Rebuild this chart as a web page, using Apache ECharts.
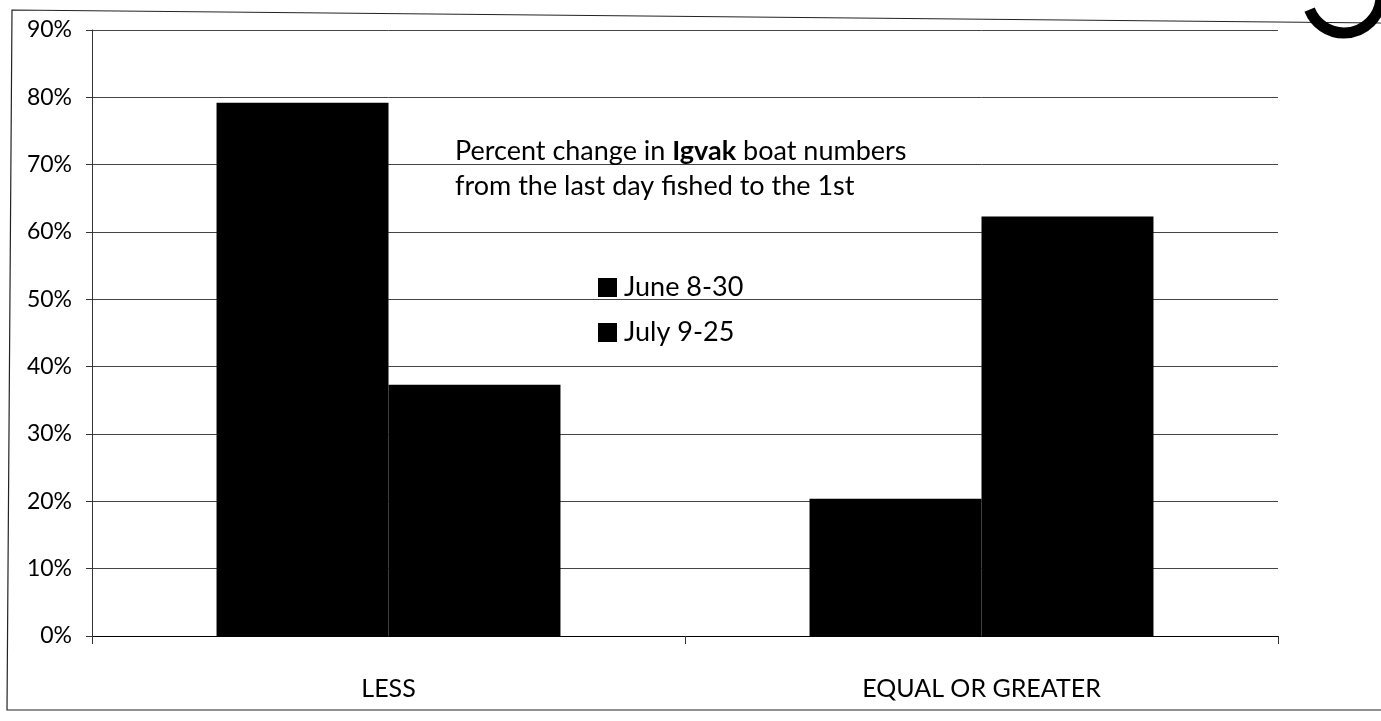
<!DOCTYPE html>
<html>
<head>
<meta charset="utf-8">
<script src="https://cdn.jsdelivr.net/npm/echarts@6/dist/echarts.min.js"></script>
<style>
html,body{margin:0;padding:0;background:#fff;}
#chart{width:1381px;height:721px;}
</style>
</head>
<body>
<div id="chart"></div>
<script>
// Data
const categories = ['LESS', 'EQUAL OR GREATER'];
const seriesNames = ['June 8-30', 'July 9-25'];
const june = [79.2, 20.4];
const july = [37.3, 62.3];
const yMin = 0, yMax = 90, yStep = 10;

const FONT = 'Lato, "Open Sans", sans-serif';
const chart = echarts.init(document.getElementById('chart'));
chart.setOption({
  backgroundColor: '#fff',
  animation: false,
  title: {
    left: 450, top: 129,
    text: '{a|Percent change in }{b|Igvak}{a| boat numbers}\n{a|from the last day fished to the 1st}',
    textStyle: {
      fontWeight: 'normal', fontSize: 27, fontFamily: FONT, color: '#000',
      rich: {
        a: {fontFamily: FONT, fontSize: 27, fontWeight: 'normal', color: '#000', lineHeight: 35},
        b: {fontFamily: FONT, fontSize: 27, fontWeight: 'bold', color: '#000', lineHeight: 35}
      }
    }
  },
  legend: {
    orient: 'vertical',
    left: 593, top: 267,
    itemWidth: 17, itemHeight: 17, itemGap: 14,
    icon: 'rect',
    textStyle: {fontFamily: FONT, fontSize: 27, color: '#000', lineHeight: 31, padding: [0, 0, 0, 3]},
    data: seriesNames
  },
  grid: {left: 92, right: 103, top: 30, bottom: 85},
  xAxis: {
    type: 'category',
    data: categories,
    axisLine: {lineStyle: {color: '#000', width: 1}},
    axisTick: {show: true, length: 8, lineStyle: {color: '#333'}},
    axisLabel: {fontFamily: FONT, fontSize: 25, color: '#000', margin: 40}
  },
  yAxis: {
    type: 'value',
    min: yMin, max: yMax, interval: yStep,
    axisLine: {show: true, lineStyle: {color: '#333', width: 1}},
    axisTick: {show: true, length: 6, lineStyle: {color: '#333'}},
    axisLabel: {fontFamily: FONT, fontSize: 23, color: '#000', margin: 20, formatter: '{value}%'},
    splitLine: {lineStyle: {color: '#444', width: 1}}
  },
  series: [
    {name: seriesNames[0], type: 'bar', data: june, barGap: '0%', barCategoryGap: '42%',
      itemStyle: {color: '#000', borderColor: '#000', borderWidth: 2}},
    {name: seriesNames[1], type: 'bar', data: july, barGap: '0%', barCategoryGap: '42%',
      itemStyle: {color: '#000', borderColor: '#000', borderWidth: 2}}
  ],
  graphic: [
    {type: 'polyline', silent: true, shape: {points: [[1381, 23], [12, 10], [7, 710], [1381, 710]]},
      style: {stroke: '#222', lineWidth: 1.2, fill: null}},
    {type: 'arc', silent: true, shape: {cx: 1344, cy: -4, r: 37, startAngle: 0.0 * Math.PI, endAngle: 0.88 * Math.PI},
      style: {stroke: '#000', lineWidth: 11, fill: null}}
  ]
});
</script>
</body>
</html>
